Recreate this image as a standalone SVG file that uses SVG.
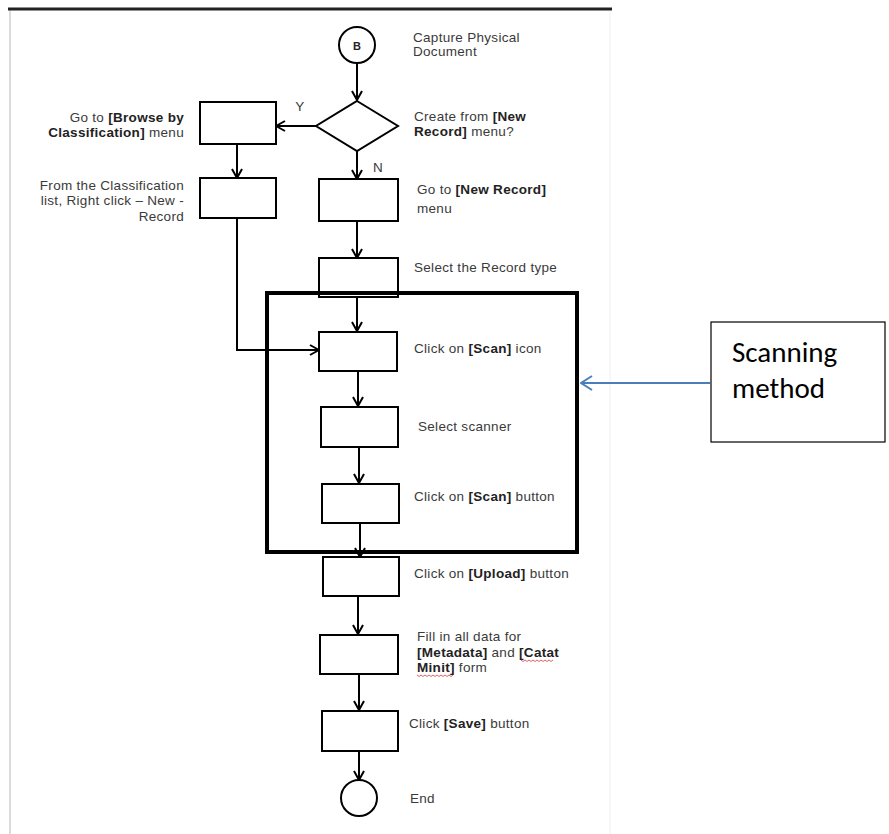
<svg xmlns="http://www.w3.org/2000/svg" width="889" height="834" viewBox="0 0 889 834">
<defs>
<marker id="ah" viewBox="0 0 12 12" refX="11" refY="6" markerWidth="12" markerHeight="12" markerUnits="userSpaceOnUse" orient="auto">
<path d="M2,1 L11,6 L2,11" fill="none" stroke="#000" stroke-width="2"/>
</marker>
<marker id="bh" viewBox="0 0 16 16" refX="15" refY="8" markerWidth="16" markerHeight="16" markerUnits="userSpaceOnUse" orient="auto">
<path d="M4,1 L15,8 L4,15" fill="none" stroke="#4a7ebb" stroke-width="2"/>
</marker>
<style>
.box{fill:#fff;stroke:#000;stroke-width:2}
.t{font-family:"Liberation Sans",Arial,sans-serif;font-size:13.5px;letter-spacing:0.3px;fill:#3a3a3a}
.r{text-anchor:end}
.b{font-weight:bold;fill:#222}
.c{fill:none;stroke:#000;stroke-width:2}
.sq{fill:none;stroke:#d04040;stroke-width:0.8}
.cal{font-family:Carlito,Calibri,"Open Sans","Liberation Sans",sans-serif;font-size:29px;fill:#000}
</style>
</defs>
<rect x="0" y="0" width="889" height="834" fill="#fff"/>
<g id="page">
<line x1="10" y1="10" x2="10" y2="834" stroke="#cfcfcf" stroke-width="1.5"/>
<line x1="610" y1="10" x2="610" y2="834" stroke="#f0f0f0" stroke-width="1"/>
<line x1="8" y1="9" x2="612" y2="9" stroke="#222" stroke-width="3"/>
</g>
<g id="connectors">
<line class="c" x1="357" y1="63" x2="357" y2="100" marker-end="url(#ah)"/>
<line class="c" x1="316" y1="126" x2="276" y2="126" marker-end="url(#ah)"/>
<line class="c" x1="357" y1="151" x2="357" y2="179" marker-end="url(#ah)"/>
<line class="c" x1="237" y1="144" x2="237" y2="178" marker-end="url(#ah)"/>
<line class="c" x1="357" y1="221" x2="357" y2="258" marker-end="url(#ah)"/>
<polyline class="c" points="237,218 237,350 319,350" marker-end="url(#ah)"/>
<line class="c" x1="357" y1="297" x2="357" y2="331" marker-end="url(#ah)"/>
<line class="c" x1="358" y1="371" x2="358" y2="406" marker-end="url(#ah)"/>
<line class="c" x1="359" y1="447" x2="359" y2="483" marker-end="url(#ah)"/>
<line class="c" x1="360" y1="523" x2="360" y2="557" marker-end="url(#ah)"/>
<line class="c" x1="358" y1="596" x2="358" y2="634" marker-end="url(#ah)"/>
<line class="c" x1="359" y1="674" x2="359" y2="710" marker-end="url(#ah)"/>
<line class="c" x1="359" y1="751" x2="359" y2="780" marker-end="url(#ah)"/>
<line x1="710" y1="383" x2="581" y2="383" stroke="#4a7ebb" stroke-width="2" marker-end="url(#bh)"/>
</g>
<g id="start">
<circle cx="357" cy="45" r="18" class="box"/>
<text x="357" y="49.5" class="t b" text-anchor="middle" style="font-size:11px;letter-spacing:0">B</text>
<text class="t" x="413" y="42">Capture Physical</text>
<text class="t" x="413" y="56">Document</text>
</g>
<g id="decision">
<polygon class="box" points="357,101 398,126 357,151 316,126"/>
<text class="t" x="300" y="111" text-anchor="middle">Y</text>
<text class="t" x="378" y="172" text-anchor="middle">N</text>
<text class="t" x="414" y="121">Create from <tspan class="b">[New</tspan></text>
<text class="t" x="414" y="136"><tspan class="b">Record]</tspan> menu?</text>
</g>
<g id="browse">
<rect class="box" x="200" y="102" width="76" height="42"/>
<text class="t r" x="184" y="122">Go to <tspan class="b">[Browse by</tspan></text>
<text class="t r" x="184" y="137"><tspan class="b">Classification]</tspan> menu</text>
</g>
<g id="classlist">
<rect class="box" x="200" y="178" width="76" height="40"/>
<text class="t r" x="184" y="190">From the Classification</text>
<text class="t r" x="184" y="205">list, Right click – New -</text>
<text class="t r" x="184" y="221">Record</text>
</g>
<g id="newrecord">
<rect class="box" x="319" y="179" width="79" height="42"/>
<text class="t" x="417" y="194">Go to <tspan class="b">[New Record]</tspan></text>
<text class="t" x="417" y="213">menu</text>
</g>
<g id="recordtype">
<rect class="box" x="319" y="258" width="79" height="39"/>
<text class="t" x="414" y="272">Select the Record type</text>
</g>
<g id="scanicon">
<rect class="box" x="319" y="332" width="78" height="39"/>
<text class="t" x="414" y="353">Click on <tspan class="b">[Scan]</tspan> icon</text>
</g>
<g id="scanner">
<rect class="box" x="321" y="407" width="77" height="40"/>
<text class="t" x="418" y="431">Select scanner</text>
</g>
<g id="scanbutton">
<rect class="box" x="322" y="484" width="77" height="39"/>
<text class="t" x="414" y="501">Click on <tspan class="b">[Scan]</tspan> button</text>
</g>
<g id="scanning-frame">
<rect x="267" y="293" width="310" height="259" fill="none" stroke="#000" stroke-width="4"/>
</g>
<g id="upload">
<rect class="box" x="323" y="557" width="76" height="39"/>
<text class="t" x="414" y="578">Click on <tspan class="b">[Upload]</tspan> button</text>
</g>
<g id="fill">
<rect class="box" x="320" y="635" width="78" height="39"/>
<text class="t" x="417" y="641">Fill in all data for</text>
<text class="t" x="417" y="657"><tspan class="b">[Metadata]</tspan> and <tspan class="b">[Catat</tspan></text>
<text class="t" x="417" y="672"><tspan class="b">Minit]</tspan> form</text>
<path class="sq" d="M521,660 l2,1.5 l2,-1.5 l2,1.5 l2,-1.5 l2,1.5 l2,-1.5 l2,1.5 l2,-1.5 l2,1.5 l2,-1.5 l2,1.5 l2,-1.5 l2,1.5 l2,-1.5 l2,1.5 l2,-1.5"/>
<path class="sq" d="M417,675 l2,1.5 l2,-1.5 l2,1.5 l2,-1.5 l2,1.5 l2,-1.5 l2,1.5 l2,-1.5 l2,1.5 l2,-1.5 l2,1.5 l2,-1.5 l2,1.5 l2,-1.5 l2,1.5 l2,-1.5 l2,1.5 l2,-1.5"/>
</g>
<g id="save">
<rect class="box" x="322" y="711" width="76" height="40"/>
<text class="t" x="409" y="728">Click <tspan class="b">[Save]</tspan> button</text>
</g>
<g id="end">
<circle cx="359" cy="798" r="18" class="box"/>
<text class="t" x="410" y="803">End</text>
</g>
<g id="callout">
<rect x="711" y="322" width="174" height="120" fill="#fff" stroke="#000" stroke-width="1.2"/>
<text class="cal" x="732" y="362">Scanning</text>
<text class="cal" x="732" y="398">method</text>
</g>
</svg>
